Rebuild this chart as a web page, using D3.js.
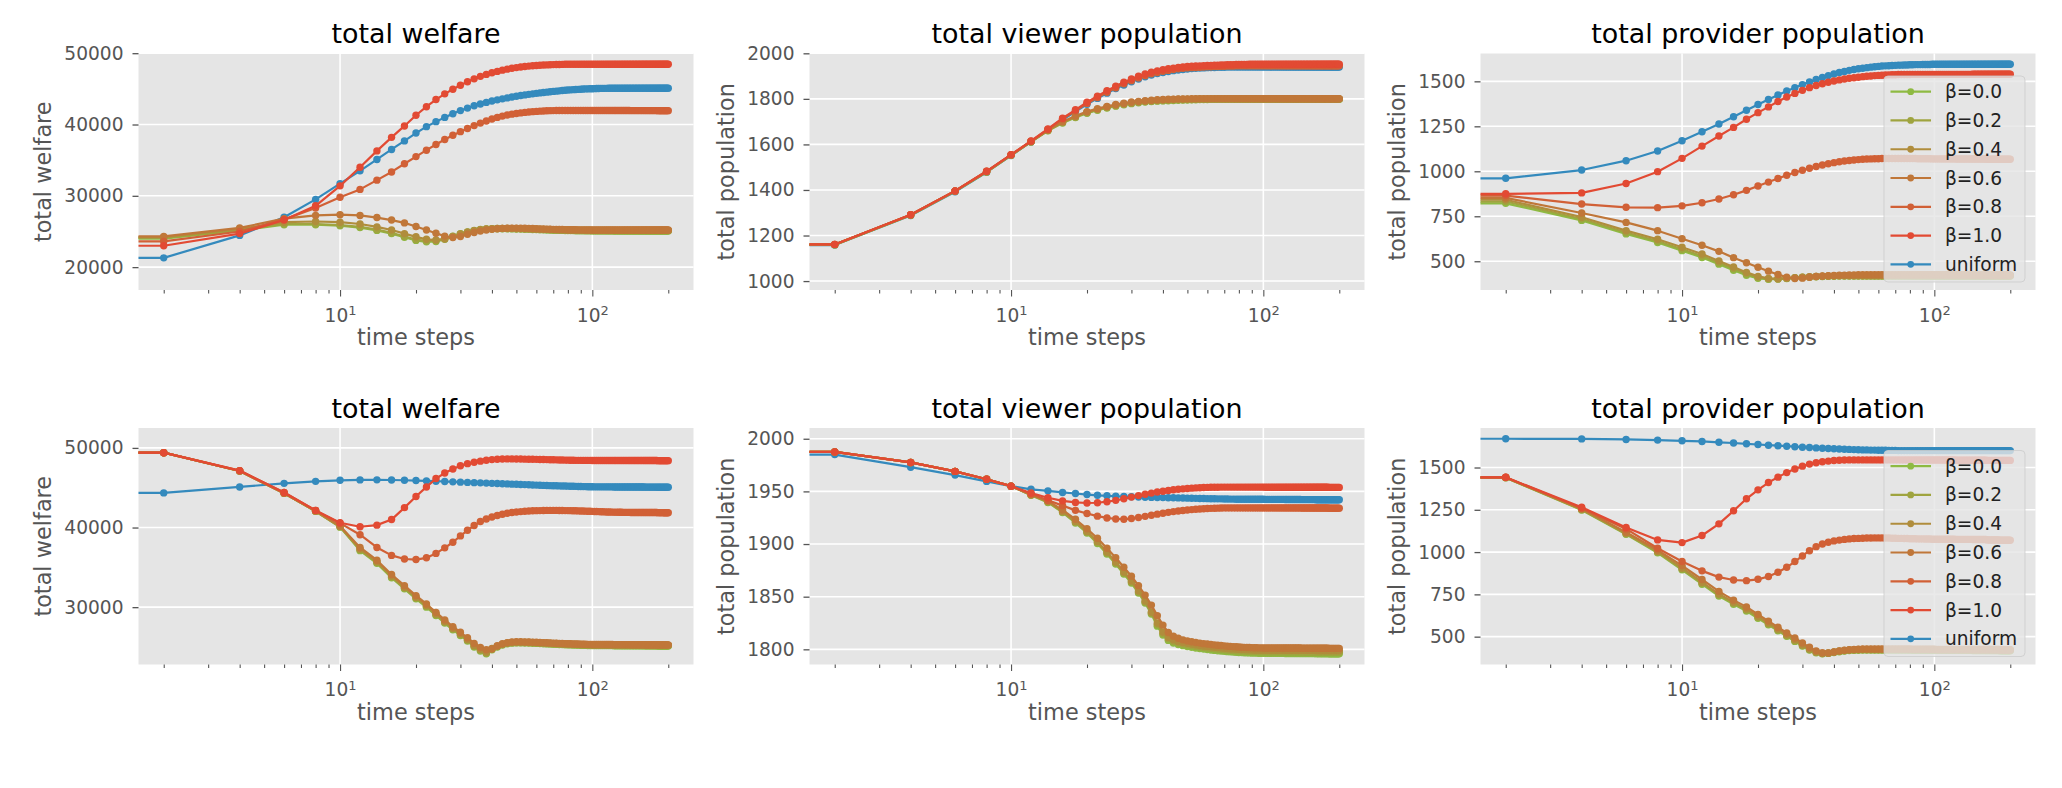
<!DOCTYPE html>
<html>
<head>
<meta charset="utf-8">
<script src="https://cdn.jsdelivr.net/npm/d3@7"></script>
<style>
  body { margin: 0; background: #fff; }
  svg text { font-family: "DejaVu Sans", sans-serif; }
</style>
</head>
<body>
<div id="chart"></div>
<script>
// time steps (t = 0 is clipped to the left edge like matplotlib does on a log axis)
const steps = [0, 2, 4, 6, 8, 10, 12, 14, 16, 18, 20,
  22, 24, 26, 28, 30, 32, 34, 36, 38, 40,
  42, 44, 46, 48, 50, 52, 54, 56, 58, 60,
  62, 64, 66, 68, 70, 72, 74, 76, 78, 80,
  82, 84, 86, 88, 90, 92, 94, 96, 98, 100,
  102, 104, 106, 108, 110, 112, 114, 116, 118, 120,
  122, 124, 126, 128, 130, 132, 134, 136, 138, 140,
  142, 144, 146, 148, 150, 152, 154, 156, 158, 160,
  162, 164, 166, 168, 170, 172, 174, 176, 178, 180,
  182, 184, 186, 188, 190, 192, 194, 196, 198, 200];

const betas = [0.0, 0.2, 0.4, 0.6, 0.8, 1.0];
const seriesNames = ["β=0.0", "β=0.2", "β=0.4", "β=0.6", "β=0.8", "β=1.0", "uniform"];

// ---------- top row: total welfare ----------
const welfare1_b00 = [24000, 24000, 25150, 25950, 25950, 25800, 25550, 25150, 24700, 24200, 23750,
  23550, 23600, 23900, 24300, 24650, 24900, 25100, 25230, 25320, 25360,
  25380, 25380, 25370, 25360, 25350, 25330, 25310, 25300, 25280, 25260,
  25240, 25230, 25210, 25200, 25180, 25170, 25160, 25150, 25140, 25130,
  25120, 25120, 25110, 25110, 25100, 25100, 25090, 25090, 25090, 25080,
  25080, 25080, 25080, 25080, 25080, 25080, 25080, 25080, 25080, 25080,
  25070, 25070, 25070, 25070, 25070, 25070, 25070, 25070, 25070, 25070,
  25070, 25070, 25070, 25070, 25070, 25070, 25070, 25070, 25070, 25070,
  25060, 25060, 25060, 25060, 25060, 25060, 25060, 25060, 25060, 25060,
  25060, 25060, 25060, 25060, 25060, 25060, 25060, 25060, 25060, 25060];
const welfare1_b02 = [24100, 24100, 25250, 26050, 26050, 25900, 25650, 25250, 24800, 24300, 23850,
  23650, 23700, 24000, 24350, 24700, 24950, 25150, 25280, 25360, 25400,
  25420, 25420, 25410, 25400, 25390, 25370, 25360, 25340, 25320, 25310,
  25290, 25270, 25260, 25240, 25230, 25220, 25210, 25200, 25190, 25180,
  25170, 25170, 25160, 25160, 25150, 25150, 25140, 25140, 25140, 25130,
  25130, 25130, 25130, 25130, 25130, 25130, 25130, 25130, 25130, 25130,
  25120, 25120, 25120, 25120, 25120, 25120, 25120, 25120, 25120, 25120,
  25120, 25120, 25120, 25120, 25120, 25120, 25120, 25120, 25120, 25120,
  25120, 25120, 25120, 25120, 25120, 25120, 25120, 25120, 25120, 25120,
  25120, 25120, 25120, 25120, 25120, 25120, 25120, 25120, 25120, 25120];
const welfare1_b04 = [24200, 24200, 25350, 26300, 26400, 26300, 26050, 25650, 25200, 24700, 24250,
  23900, 23800, 23950, 24250, 24600, 24900, 25100, 25250, 25350, 25400,
  25430, 25440, 25440, 25430, 25420, 25400, 25390, 25370, 25350, 25340,
  25320, 25300, 25290, 25270, 25260, 25250, 25240, 25230, 25220, 25210,
  25200, 25200, 25190, 25190, 25180, 25180, 25170, 25170, 25170, 25160,
  25160, 25160, 25160, 25160, 25160, 25160, 25160, 25160, 25160, 25160,
  25150, 25150, 25150, 25150, 25150, 25150, 25150, 25150, 25150, 25150,
  25150, 25150, 25150, 25150, 25150, 25150, 25150, 25150, 25150, 25150,
  25150, 25150, 25150, 25150, 25150, 25150, 25150, 25150, 25150, 25150,
  25150, 25150, 25150, 25150, 25150, 25150, 25150, 25150, 25150, 25150];
const welfare1_b06 = [24300, 24300, 25500, 26800, 27250, 27350, 27250, 26950, 26600, 26200, 25700,
  25200, 24750, 24350, 24150, 24300, 24600, 24850, 25050, 25200, 25300,
  25380, 25430, 25460, 25470, 25470, 25460, 25450, 25430, 25410, 25390,
  25370, 25350, 25330, 25310, 25300, 25290, 25280, 25270, 25260, 25250,
  25250, 25240, 25240, 25230, 25230, 25230, 25220, 25220, 25220, 25210,
  25210, 25210, 25210, 25210, 25210, 25210, 25210, 25210, 25210, 25210,
  25200, 25200, 25200, 25200, 25200, 25200, 25200, 25200, 25200, 25200,
  25200, 25200, 25200, 25200, 25200, 25200, 25200, 25200, 25200, 25200,
  25200, 25200, 25200, 25200, 25200, 25200, 25200, 25200, 25200, 25200,
  25200, 25200, 25200, 25200, 25200, 25200, 25200, 25200, 25200, 25200];
const welfare1_b08 = [23600, 23600, 25000, 26700, 28300, 29800, 30900, 32200, 33350, 34500, 35500,
  36400, 37200, 37900, 38500, 39000, 39450, 39850, 40200, 40500, 40780,
  41000, 41180, 41330, 41450, 41550, 41630, 41700, 41750, 41800, 41840,
  41870, 41900, 41920, 41940, 41950, 41960, 41960, 41960, 41960, 41960,
  41960, 41960, 41960, 41960, 41960, 41960, 41960, 41960, 41960, 41960,
  41960, 41960, 41960, 41960, 41960, 41960, 41960, 41960, 41960, 41960,
  41960, 41960, 41960, 41960, 41960, 41960, 41960, 41960, 41960, 41960,
  41950, 41950, 41950, 41950, 41950, 41950, 41950, 41950, 41950, 41950,
  41950, 41950, 41950, 41950, 41950, 41950, 41950, 41950, 41950, 41950,
  41940, 41940, 41940, 41940, 41940, 41940, 41940, 41940, 41940, 41940];
const welfare1_b10 = [23000, 23000, 24700, 26600, 28600, 31400, 34000, 36300, 38200, 39800, 41300,
  42500, 43500, 44300, 44950, 45500, 46000, 46400, 46750, 47030, 47250,
  47450, 47620, 47760, 47880, 47980, 48060, 48130, 48190, 48240, 48280,
  48310, 48340, 48360, 48380, 48400, 48410, 48420, 48430, 48440, 48450,
  48450, 48450, 48450, 48450, 48450, 48450, 48450, 48450, 48450, 48450,
  48450, 48450, 48450, 48450, 48450, 48450, 48450, 48450, 48450, 48450,
  48450, 48450, 48450, 48450, 48450, 48450, 48450, 48450, 48450, 48450,
  48450, 48450, 48450, 48450, 48450, 48450, 48450, 48450, 48450, 48450,
  48450, 48450, 48450, 48450, 48450, 48450, 48450, 48450, 48450, 48450,
  48450, 48450, 48450, 48450, 48450, 48450, 48450, 48450, 48450, 48450];
const welfare1_uni = [18300, 21300, 24450, 27000, 29500, 31700, 33500, 35100, 36500, 37700, 38800,
  39700, 40400, 41000, 41500, 41950, 42300, 42620, 42880, 43100, 43300,
  43460, 43600, 43730, 43850, 43960, 44060, 44150, 44230, 44300, 44370,
  44430, 44490, 44540, 44590, 44640, 44680, 44720, 44760, 44800, 44830,
  44860, 44890, 44910, 44930, 44950, 44970, 44990, 45000, 45010, 45020,
  45030, 45040, 45050, 45060, 45060, 45070, 45070, 45080, 45080, 45090,
  45090, 45090, 45090, 45090, 45090, 45090, 45090, 45090, 45090, 45090,
  45100, 45100, 45100, 45100, 45100, 45100, 45100, 45100, 45100, 45100,
  45100, 45100, 45100, 45100, 45100, 45100, 45100, 45100, 45100, 45100,
  45100, 45100, 45100, 45100, 45100, 45100, 45100, 45100, 45100, 45100];

// ---------- top row: total viewer population ----------
const viewers1_b00 = [1008, 1159, 1289, 1394, 1479, 1552, 1611, 1660, 1694, 1718, 1737,
  1750, 1760, 1768, 1774, 1779, 1783, 1786, 1788, 1790, 1791,
  1792, 1793, 1794, 1795, 1795, 1796, 1796, 1797, 1797, 1797,
  1798, 1798, 1798, 1798, 1798, 1798, 1798, 1798, 1798, 1798,
  1798, 1798, 1798, 1798, 1798, 1798, 1798, 1798, 1798, 1798,
  1798, 1798, 1798, 1798, 1798, 1798, 1798, 1798, 1798, 1798,
  1798, 1798, 1798, 1798, 1798, 1798, 1798, 1798, 1798, 1798,
  1798, 1798, 1798, 1798, 1798, 1798, 1798, 1798, 1798, 1798,
  1798, 1798, 1798, 1798, 1798, 1798, 1798, 1798, 1798, 1798,
  1798, 1798, 1798, 1798, 1798, 1798, 1798, 1798, 1798, 1798];
const viewers1_b02 = [1008, 1160, 1290, 1395, 1480, 1553, 1612, 1661, 1696, 1720, 1739,
  1752, 1762, 1770, 1776, 1781, 1785, 1788, 1790, 1792, 1793,
  1794, 1795, 1796, 1796, 1797, 1797, 1798, 1798, 1798, 1798,
  1799, 1799, 1799, 1799, 1799, 1799, 1799, 1799, 1799, 1799,
  1799, 1799, 1799, 1799, 1799, 1799, 1799, 1799, 1799, 1799,
  1799, 1799, 1799, 1799, 1799, 1799, 1799, 1799, 1799, 1799,
  1799, 1799, 1799, 1799, 1799, 1799, 1799, 1799, 1799, 1799,
  1799, 1799, 1799, 1799, 1799, 1799, 1799, 1799, 1799, 1799,
  1799, 1799, 1799, 1799, 1799, 1799, 1799, 1799, 1799, 1799,
  1799, 1799, 1799, 1799, 1799, 1799, 1799, 1799, 1799, 1799];
const viewers1_b04 = [1008, 1160, 1290, 1395, 1480, 1553, 1612, 1662, 1698, 1722, 1741,
  1754, 1764, 1772, 1778, 1783, 1787, 1790, 1792, 1794, 1795,
  1796, 1797, 1798, 1798, 1799, 1799, 1799, 1800, 1800, 1800,
  1800, 1800, 1800, 1800, 1800, 1800, 1800, 1800, 1800, 1800,
  1800, 1800, 1800, 1800, 1800, 1800, 1800, 1800, 1800, 1800,
  1800, 1800, 1800, 1800, 1800, 1800, 1800, 1800, 1800, 1800,
  1800, 1800, 1800, 1800, 1800, 1800, 1800, 1800, 1800, 1800,
  1800, 1800, 1800, 1800, 1800, 1800, 1800, 1800, 1800, 1800,
  1800, 1800, 1800, 1800, 1800, 1800, 1800, 1800, 1800, 1800,
  1800, 1800, 1800, 1800, 1800, 1800, 1800, 1800, 1800, 1800];
const viewers1_b06 = [1008, 1161, 1291, 1396, 1481, 1554, 1613, 1663, 1700, 1725, 1744,
  1757, 1767, 1775, 1781, 1786, 1789, 1792, 1794, 1796, 1797,
  1798, 1799, 1800, 1800, 1800, 1801, 1801, 1801, 1801, 1801,
  1801, 1801, 1801, 1801, 1801, 1801, 1801, 1801, 1801, 1801,
  1801, 1801, 1801, 1801, 1801, 1801, 1801, 1801, 1801, 1801,
  1801, 1801, 1801, 1801, 1801, 1801, 1801, 1801, 1801, 1801,
  1801, 1801, 1801, 1801, 1801, 1801, 1801, 1801, 1801, 1801,
  1801, 1801, 1801, 1801, 1801, 1801, 1801, 1801, 1801, 1801,
  1801, 1801, 1801, 1801, 1801, 1801, 1801, 1801, 1801, 1801,
  1801, 1801, 1801, 1801, 1801, 1801, 1801, 1801, 1801, 1801];
const viewers1_b08 = [1008, 1161, 1291, 1396, 1482, 1555, 1614, 1666, 1712, 1748, 1780,
  1806, 1829, 1849, 1866, 1880, 1892, 1902, 1910, 1916, 1921,
  1925, 1929, 1932, 1934, 1936, 1937, 1938, 1939, 1940, 1941,
  1941, 1942, 1942, 1943, 1943, 1944, 1944, 1944, 1945, 1945,
  1945, 1945, 1945, 1945, 1945, 1945, 1945, 1945, 1945, 1945,
  1945, 1945, 1945, 1945, 1945, 1945, 1945, 1945, 1945, 1945,
  1945, 1945, 1945, 1945, 1945, 1945, 1945, 1945, 1945, 1945,
  1945, 1945, 1945, 1945, 1945, 1945, 1945, 1945, 1945, 1945,
  1945, 1945, 1945, 1945, 1945, 1945, 1945, 1945, 1945, 1945,
  1945, 1945, 1945, 1945, 1945, 1945, 1945, 1945, 1945, 1945];
const viewers1_b10 = [1008, 1161, 1291, 1396, 1482, 1555, 1615, 1668, 1715, 1752, 1785,
  1812, 1836, 1856, 1873, 1887, 1899, 1909, 1917, 1923, 1928,
  1932, 1935, 1938, 1940, 1942, 1943, 1944, 1945, 1946, 1947,
  1947, 1948, 1948, 1949, 1949, 1950, 1950, 1950, 1951, 1951,
  1951, 1951, 1951, 1952, 1952, 1952, 1952, 1952, 1952, 1952,
  1952, 1952, 1952, 1952, 1952, 1952, 1952, 1952, 1952, 1952,
  1952, 1952, 1952, 1952, 1952, 1952, 1952, 1952, 1952, 1952,
  1952, 1952, 1952, 1952, 1952, 1952, 1952, 1952, 1952, 1952,
  1952, 1952, 1952, 1952, 1952, 1952, 1952, 1952, 1952, 1952,
  1952, 1952, 1952, 1952, 1952, 1952, 1952, 1952, 1952, 1952];
const viewers1_uni = [1008, 1158, 1288, 1392, 1478, 1551, 1611, 1663, 1708, 1744, 1776,
  1802, 1825, 1845, 1861, 1875, 1887, 1897, 1905, 1911, 1916,
  1920, 1924, 1927, 1929, 1931, 1933, 1934, 1935, 1936, 1937,
  1938, 1938, 1939, 1939, 1939, 1940, 1940, 1940, 1940, 1940,
  1940, 1940, 1940, 1940, 1940, 1940, 1940, 1940, 1940, 1940,
  1940, 1940, 1940, 1940, 1940, 1940, 1940, 1940, 1940, 1940,
  1940, 1940, 1940, 1940, 1940, 1940, 1940, 1940, 1940, 1940,
  1940, 1940, 1940, 1940, 1940, 1940, 1940, 1940, 1940, 1940,
  1940, 1940, 1940, 1940, 1940, 1940, 1940, 1940, 1940, 1940,
  1940, 1940, 1940, 1940, 1940, 1940, 1940, 1940, 1940, 1940];

// ---------- top row: total provider population ----------
const providers1_b00 = [822, 822, 727, 652, 604, 559, 521, 484, 450, 422, 405,
  400, 401, 404, 407, 410, 412, 414, 415, 416, 417,
  418, 418, 418, 418, 418, 418, 418, 418, 418, 418,
  418, 418, 418, 418, 418, 418, 418, 418, 418, 418,
  418, 418, 418, 418, 418, 418, 418, 418, 418, 418,
  418, 418, 418, 418, 418, 418, 418, 418, 418, 418,
  418, 418, 418, 418, 418, 418, 418, 418, 418, 418,
  418, 418, 418, 418, 418, 418, 418, 418, 418, 418,
  418, 418, 418, 418, 418, 418, 418, 418, 418, 418,
  418, 418, 418, 418, 418, 418, 418, 418, 418, 418];
const providers1_b02 = [832, 832, 735, 660, 612, 567, 529, 492, 458, 429, 410,
  402, 402, 405, 408, 411, 413, 415, 416, 417, 418,
  419, 419, 419, 419, 419, 419, 419, 419, 419, 419,
  419, 419, 419, 419, 419, 419, 419, 419, 419, 419,
  419, 419, 419, 419, 419, 419, 419, 419, 419, 419,
  419, 419, 419, 419, 419, 419, 419, 419, 419, 419,
  419, 419, 419, 419, 419, 419, 419, 419, 419, 419,
  419, 419, 419, 419, 419, 419, 419, 419, 419, 419,
  419, 419, 419, 419, 419, 419, 419, 419, 419, 419,
  419, 419, 419, 419, 419, 419, 419, 419, 419, 419];
const providers1_b04 = [842, 842, 745, 670, 622, 578, 540, 502, 468, 438, 416,
  405, 403, 406, 409, 412, 414, 416, 417, 418, 419,
  420, 420, 420, 420, 420, 420, 420, 420, 420, 420,
  421, 421, 421, 421, 421, 421, 421, 421, 421, 421,
  421, 421, 421, 421, 421, 421, 421, 421, 421, 421,
  421, 421, 421, 421, 421, 421, 421, 421, 421, 421,
  421, 421, 421, 421, 421, 421, 421, 421, 421, 421,
  421, 421, 421, 421, 421, 421, 421, 421, 421, 421,
  421, 421, 421, 421, 421, 421, 421, 421, 421, 421,
  421, 421, 421, 421, 421, 421, 421, 421, 421, 421];
const providers1_b06 = [852, 852, 768, 716, 670, 625, 589, 555, 520, 492, 467,
  445, 426, 412, 404, 406, 411, 415, 418, 420, 421,
  422, 423, 424, 424, 425, 425, 425, 425, 425, 425,
  425, 425, 425, 425, 425, 425, 425, 425, 425, 425,
  425, 425, 425, 425, 425, 425, 425, 425, 425, 425,
  425, 425, 425, 425, 425, 425, 425, 425, 425, 425,
  425, 425, 425, 425, 425, 425, 425, 425, 425, 425,
  424, 424, 424, 424, 424, 424, 424, 424, 424, 424,
  424, 424, 424, 424, 424, 424, 424, 424, 424, 424,
  424, 424, 424, 424, 424, 424, 424, 424, 424, 424];
const providers1_b08 = [865, 865, 818, 800, 798, 808, 825, 846, 870, 894, 918,
  940, 960, 978, 993, 1006, 1017, 1027, 1035, 1042, 1048,
  1053, 1057, 1060, 1063, 1065, 1067, 1068, 1069, 1070, 1070,
  1071, 1071, 1071, 1071, 1071, 1071, 1071, 1071, 1071, 1071,
  1071, 1071, 1070, 1070, 1070, 1070, 1070, 1070, 1069, 1069,
  1069, 1069, 1069, 1069, 1069, 1069, 1069, 1069, 1069, 1069,
  1068, 1068, 1068, 1068, 1068, 1068, 1068, 1068, 1068, 1068,
  1068, 1068, 1068, 1068, 1068, 1068, 1068, 1068, 1068, 1068,
  1067, 1067, 1067, 1067, 1067, 1067, 1067, 1067, 1067, 1067,
  1067, 1067, 1067, 1067, 1067, 1067, 1067, 1067, 1067, 1067];
const providers1_b10 = [875, 875, 880, 932, 998, 1072, 1140, 1196, 1244, 1289, 1326,
  1358, 1388, 1413, 1433, 1450, 1465, 1477, 1487, 1495, 1502,
  1508, 1513, 1517, 1520, 1523, 1526, 1528, 1530, 1532, 1533,
  1534, 1535, 1536, 1537, 1537, 1538, 1538, 1538, 1538, 1538,
  1539, 1539, 1539, 1539, 1539, 1539, 1539, 1539, 1539, 1539,
  1539, 1539, 1539, 1539, 1539, 1539, 1539, 1539, 1539, 1539,
  1539, 1539, 1539, 1539, 1539, 1539, 1539, 1539, 1539, 1539,
  1540, 1540, 1540, 1540, 1540, 1540, 1540, 1540, 1540, 1540,
  1540, 1540, 1540, 1540, 1540, 1540, 1540, 1540, 1540, 1540,
  1540, 1540, 1540, 1540, 1540, 1540, 1540, 1540, 1540, 1540];
const providers1_uni = [961, 961, 1007, 1059, 1113, 1170, 1220, 1263, 1303, 1339, 1371,
  1399, 1424, 1446, 1465, 1482, 1497, 1510, 1522, 1532, 1541,
  1549, 1555, 1561, 1566, 1570, 1573, 1576, 1579, 1581, 1583,
  1585, 1586, 1587, 1588, 1589, 1590, 1590, 1591, 1591, 1592,
  1592, 1593, 1593, 1593, 1594, 1594, 1594, 1594, 1595, 1595,
  1595, 1595, 1595, 1595, 1595, 1595, 1595, 1595, 1595, 1595,
  1595, 1595, 1595, 1595, 1595, 1595, 1595, 1595, 1595, 1595,
  1595, 1595, 1595, 1595, 1595, 1595, 1595, 1595, 1595, 1595,
  1595, 1595, 1595, 1595, 1595, 1595, 1595, 1595, 1595, 1595,
  1595, 1595, 1595, 1595, 1595, 1595, 1595, 1595, 1595, 1595];

// ---------- bottom row: total welfare ----------
const welfare2_b00 = [51150, 49400, 47100, 44300, 42050, 40050, 37100, 35500, 33700, 32300, 31050,
  30000, 28950, 28000, 27150, 26450, 25750, 25000, 24500, 24150, 24650,
  25000, 25250, 25400, 25480, 25510, 25510, 25500, 25490, 25470, 25450,
  25430, 25410, 25390, 25370, 25350, 25330, 25310, 25300, 25280, 25270,
  25260, 25250, 25240, 25230, 25220, 25210, 25200, 25190, 25190, 25180,
  25180, 25180, 25180, 25180, 25180, 25180, 25180, 25180, 25180, 25180,
  25160, 25160, 25160, 25160, 25160, 25160, 25160, 25160, 25160, 25160,
  25150, 25150, 25150, 25150, 25150, 25150, 25150, 25150, 25150, 25150,
  25140, 25140, 25140, 25140, 25140, 25140, 25140, 25140, 25140, 25140,
  25130, 25130, 25130, 25130, 25130, 25130, 25130, 25130, 25130, 25130];
const welfare2_b02 = [51150, 49400, 47100, 44300, 42050, 40100, 37200, 35600, 33800, 32400, 31150,
  30100, 29050, 28100, 27250, 26550, 25850, 25100, 24600, 24250, 24700,
  25050, 25300, 25450, 25530, 25560, 25560, 25550, 25540, 25520, 25500,
  25480, 25460, 25440, 25420, 25400, 25380, 25360, 25350, 25330, 25320,
  25310, 25300, 25290, 25280, 25270, 25260, 25250, 25240, 25240, 25230,
  25230, 25230, 25230, 25230, 25230, 25230, 25230, 25230, 25230, 25230,
  25210, 25210, 25210, 25210, 25210, 25210, 25210, 25210, 25210, 25210,
  25200, 25200, 25200, 25200, 25200, 25200, 25200, 25200, 25200, 25200,
  25190, 25190, 25190, 25190, 25190, 25190, 25190, 25190, 25190, 25190,
  25180, 25180, 25180, 25180, 25180, 25180, 25180, 25180, 25180, 25180];
const welfare2_b04 = [51150, 49400, 47100, 44300, 42050, 40150, 37300, 35700, 33900, 32500, 31250,
  30200, 29150, 28200, 27350, 26650, 25950, 25200, 24700, 24350, 24800,
  25100, 25350, 25500, 25580, 25610, 25610, 25600, 25590, 25570, 25550,
  25530, 25510, 25490, 25470, 25450, 25430, 25410, 25400, 25380, 25370,
  25360, 25350, 25340, 25330, 25320, 25310, 25300, 25290, 25290, 25280,
  25280, 25280, 25280, 25280, 25280, 25280, 25280, 25280, 25280, 25280,
  25260, 25260, 25260, 25260, 25260, 25260, 25260, 25260, 25260, 25260,
  25250, 25250, 25250, 25250, 25250, 25250, 25250, 25250, 25250, 25250,
  25240, 25240, 25240, 25240, 25240, 25240, 25240, 25240, 25240, 25240,
  25230, 25230, 25230, 25230, 25230, 25230, 25230, 25230, 25230, 25230];
const welfare2_b06 = [51150, 49400, 47100, 44300, 42100, 40200, 37500, 35900, 34100, 32700, 31450,
  30400, 29350, 28400, 27550, 26850, 26150, 25450, 24950, 24650, 24750,
  25150, 25400, 25550, 25620, 25650, 25650, 25640, 25630, 25610, 25590,
  25570, 25550, 25530, 25510, 25490, 25470, 25450, 25440, 25420, 25410,
  25400, 25390, 25380, 25370, 25360, 25350, 25340, 25330, 25330, 25320,
  25320, 25320, 25320, 25320, 25320, 25320, 25320, 25320, 25320, 25320,
  25300, 25300, 25300, 25300, 25300, 25300, 25300, 25300, 25300, 25300,
  25290, 25290, 25290, 25290, 25290, 25290, 25290, 25290, 25290, 25290,
  25280, 25280, 25280, 25280, 25280, 25280, 25280, 25280, 25280, 25280,
  25270, 25270, 25270, 25270, 25270, 25270, 25270, 25270, 25270, 25270];
const welfare2_b08 = [51150, 49400, 47150, 44400, 42150, 40550, 39100, 37500, 36500, 36050, 35980,
  36200, 36750, 37450, 38150, 38950, 39650, 40250, 40750, 41080, 41330,
  41520, 41670, 41790, 41880, 41950, 42000, 42040, 42070, 42100, 42120,
  42130, 42140, 42150, 42150, 42150, 42150, 42140, 42140, 42130, 42130,
  42120, 42110, 42100, 42090, 42080, 42070, 42060, 42050, 42040, 42030,
  42020, 42010, 42000, 41990, 41980, 41970, 41960, 41950, 41950, 41940,
  41940, 41930, 41930, 41920, 41920, 41910, 41910, 41900, 41900, 41900,
  41890, 41890, 41890, 41890, 41890, 41890, 41890, 41890, 41890, 41890,
  41880, 41880, 41880, 41880, 41880, 41880, 41880, 41880, 41880, 41880,
  41870, 41870, 41870, 41870, 41870, 41860, 41860, 41860, 41860, 41860];
const welfare2_b10 = [51150, 49400, 47150, 44400, 42150, 40600, 40100, 40300, 41000, 42500, 43900,
  45100, 46150, 46850, 47350, 47750, 48020, 48200, 48340, 48450, 48530,
  48580, 48610, 48620, 48620, 48610, 48600, 48590, 48580, 48570, 48560,
  48550, 48540, 48530, 48520, 48510, 48500, 48490, 48480, 48470, 48460,
  48450, 48450, 48440, 48440, 48440, 48430, 48430, 48430, 48430, 48420,
  48420, 48420, 48420, 48420, 48420, 48420, 48420, 48420, 48420, 48420,
  48420, 48420, 48420, 48420, 48420, 48420, 48420, 48420, 48420, 48420,
  48410, 48410, 48410, 48410, 48410, 48410, 48410, 48410, 48410, 48410,
  48410, 48410, 48410, 48410, 48410, 48410, 48410, 48410, 48410, 48410,
  48400, 48400, 48400, 48400, 48400, 48400, 48400, 48400, 48400, 48400];
const welfare2_uni = [44350, 44350, 45100, 45550, 45800, 45930, 45980, 45990, 45970, 45940, 45900,
  45860, 45820, 45780, 45740, 45700, 45670, 45640, 45610, 45580, 45550,
  45530, 45500, 45480, 45450, 45430, 45410, 45390, 45370, 45350, 45330,
  45310, 45290, 45280, 45260, 45250, 45240, 45230, 45220, 45210, 45200,
  45190, 45180, 45170, 45160, 45150, 45140, 45140, 45130, 45120, 45120,
  45110, 45110, 45110, 45110, 45110, 45110, 45110, 45110, 45110, 45110,
  45100, 45100, 45100, 45100, 45100, 45100, 45100, 45100, 45100, 45100,
  45090, 45090, 45090, 45090, 45090, 45090, 45090, 45090, 45090, 45090,
  45080, 45080, 45080, 45080, 45080, 45080, 45080, 45080, 45080, 45080,
  45070, 45070, 45070, 45070, 45070, 45070, 45070, 45070, 45070, 45070];

// ---------- bottom row: total viewer population ----------
const viewers2_b00 = [2000, 1987.5, 1977.5, 1969, 1961.5, 1955, 1946.4, 1939.5, 1930, 1920, 1910.5,
  1900.5, 1890.5, 1881, 1871.5, 1863, 1853.5, 1844, 1833.5, 1822, 1813.5,
  1808.5, 1806, 1804.5, 1803.5, 1802.7, 1802, 1801.3, 1800.7, 1800.2, 1799.8,
  1799.4, 1799, 1798.7, 1798.4, 1798.1, 1797.8, 1797.6, 1797.4, 1797.2, 1797,
  1796.9, 1796.8, 1796.7, 1796.6, 1796.5, 1796.4, 1796.4, 1796.3, 1796.3, 1796.2,
  1796.2, 1796.2, 1796.2, 1796.2, 1796.2, 1796.2, 1796.2, 1796.2, 1796.2, 1796.2,
  1796.1, 1796.1, 1796.1, 1796.1, 1796.1, 1796.1, 1796.1, 1796.1, 1796.1, 1796.1,
  1796, 1796, 1796, 1796, 1796, 1796, 1796, 1796, 1796, 1796,
  1795.9, 1795.9, 1795.9, 1795.9, 1795.9, 1795.9, 1795.9, 1795.9, 1795.9, 1795.9,
  1795.8, 1795.8, 1795.8, 1795.8, 1795.8, 1795.8, 1795.8, 1795.8, 1795.8, 1795.8];
const viewers2_b02 = [2000, 1987.5, 1977.5, 1969, 1961.5, 1955, 1946.6, 1940, 1930.5, 1920.8, 1911.2,
  1901.5, 1891.5, 1882, 1872.5, 1864, 1854.5, 1845, 1834.5, 1823.5, 1815,
  1810, 1807.5, 1806, 1805, 1804.2, 1803.5, 1802.8, 1802.2, 1801.7, 1801.3,
  1800.9, 1800.5, 1800.2, 1799.9, 1799.6, 1799.3, 1799.1, 1798.9, 1798.7, 1798.5,
  1798.4, 1798.3, 1798.2, 1798.1, 1798, 1797.9, 1797.9, 1797.8, 1797.8, 1797.7,
  1797.7, 1797.7, 1797.7, 1797.7, 1797.7, 1797.7, 1797.7, 1797.7, 1797.7, 1797.7,
  1797.6, 1797.6, 1797.6, 1797.6, 1797.6, 1797.6, 1797.6, 1797.6, 1797.6, 1797.6,
  1797.5, 1797.5, 1797.5, 1797.5, 1797.5, 1797.5, 1797.5, 1797.5, 1797.5, 1797.5,
  1797.4, 1797.4, 1797.4, 1797.4, 1797.4, 1797.4, 1797.4, 1797.4, 1797.4, 1797.4,
  1797.3, 1797.3, 1797.3, 1797.3, 1797.3, 1797.3, 1797.3, 1797.3, 1797.3, 1797.3];
const viewers2_b04 = [2000, 1987.5, 1977.5, 1969, 1961.5, 1955, 1946.8, 1940.5, 1931, 1921.5, 1912,
  1902.5, 1892.5, 1883, 1873.5, 1865, 1855.5, 1846, 1835.5, 1825, 1816.5,
  1811.5, 1809, 1807.5, 1806.5, 1805.7, 1805, 1804.3, 1803.7, 1803.2, 1802.8,
  1802.4, 1802, 1801.7, 1801.4, 1801.1, 1800.8, 1800.6, 1800.4, 1800.2, 1800,
  1799.9, 1799.8, 1799.7, 1799.6, 1799.5, 1799.4, 1799.4, 1799.3, 1799.3, 1799.2,
  1799.2, 1799.2, 1799.2, 1799.2, 1799.2, 1799.2, 1799.2, 1799.2, 1799.2, 1799.2,
  1799.1, 1799.1, 1799.1, 1799.1, 1799.1, 1799.1, 1799.1, 1799.1, 1799.1, 1799.1,
  1799, 1799, 1799, 1799, 1799, 1799, 1799, 1799, 1799, 1799,
  1798.9, 1798.9, 1798.9, 1798.9, 1798.9, 1798.9, 1798.9, 1798.9, 1798.9, 1798.9,
  1798.8, 1798.8, 1798.8, 1798.8, 1798.8, 1798.8, 1798.8, 1798.8, 1798.8, 1798.8];
const viewers2_b06 = [2000, 1987.5, 1977.5, 1969, 1961.5, 1955, 1947, 1941, 1932.5, 1923.5, 1914.5,
  1905.5, 1896, 1887, 1878, 1869.5, 1860.5, 1851.5, 1842, 1832, 1823,
  1816, 1812.5, 1810.5, 1809, 1808, 1807.2, 1806.5, 1805.9, 1805.4, 1805,
  1804.6, 1804.2, 1803.9, 1803.6, 1803.3, 1803, 1802.8, 1802.6, 1802.4, 1802.2,
  1802, 1801.9, 1801.8, 1801.7, 1801.6, 1801.5, 1801.5, 1801.4, 1801.4, 1801.3,
  1801.3, 1801.3, 1801.3, 1801.3, 1801.3, 1801.3, 1801.3, 1801.3, 1801.3, 1801.3,
  1801.2, 1801.2, 1801.2, 1801.2, 1801.2, 1801.2, 1801.2, 1801.2, 1801.2, 1801.2,
  1801.1, 1801.1, 1801.1, 1801.1, 1801.1, 1801.1, 1801.1, 1801.1, 1801.1, 1801.1,
  1801, 1801, 1801, 1801, 1801, 1801, 1801, 1801, 1801, 1801,
  1800.9, 1800.9, 1800.9, 1800.9, 1800.9, 1800.9, 1800.9, 1800.9, 1800.9, 1800.9];
const viewers2_b08 = [2000, 1987.5, 1977.5, 1969, 1961.5, 1955, 1947.5, 1941.5, 1936.5, 1932, 1929,
  1926.5, 1924.8, 1923.8, 1923.6, 1924.2, 1925.2, 1926.3, 1927.4, 1928.4, 1929.3,
  1930.1, 1930.8, 1931.4, 1931.9, 1932.3, 1932.7, 1933, 1933.3, 1933.5, 1933.7,
  1933.9, 1934, 1934.1, 1934.2, 1934.3, 1934.3, 1934.3, 1934.3, 1934.3, 1934.3,
  1934.3, 1934.3, 1934.3, 1934.3, 1934.3, 1934.3, 1934.3, 1934.3, 1934.3, 1934.3,
  1934.3, 1934.3, 1934.3, 1934.3, 1934.3, 1934.3, 1934.3, 1934.3, 1934.3, 1934.3,
  1934.3, 1934.3, 1934.3, 1934.3, 1934.3, 1934.3, 1934.3, 1934.3, 1934.3, 1934.3,
  1934.2, 1934.2, 1934.2, 1934.2, 1934.2, 1934.2, 1934.2, 1934.2, 1934.2, 1934.2,
  1934.2, 1934.2, 1934.2, 1934.2, 1934.2, 1934.2, 1934.2, 1934.2, 1934.2, 1934.2,
  1934.1, 1934.1, 1934.1, 1934.1, 1934.1, 1934.1, 1934.1, 1934.1, 1934.1, 1934.1];
const viewers2_b10 = [2000, 1987.5, 1977.5, 1969, 1961.5, 1955, 1948.5, 1944, 1941, 1939.5, 1939,
  1939.2, 1940.2, 1941.5, 1943, 1944.6, 1946, 1947.3, 1948.4, 1949.4, 1950.2,
  1950.9, 1951.5, 1952, 1952.4, 1952.8, 1953.1, 1953.3, 1953.5, 1953.7, 1953.8,
  1953.9, 1954, 1954, 1954.1, 1954.1, 1954.1, 1954.1, 1954.1, 1954.1, 1954.1,
  1954.1, 1954.1, 1954.1, 1954.1, 1954.1, 1954.1, 1954.1, 1954.1, 1954.1, 1954.1,
  1954, 1954, 1954, 1954, 1954, 1954, 1954, 1954, 1954, 1954,
  1954, 1954, 1954, 1954, 1954, 1954, 1954, 1954, 1954, 1954,
  1953.9, 1953.9, 1953.9, 1953.9, 1953.9, 1953.9, 1953.9, 1953.9, 1953.9, 1953.9,
  1953.9, 1953.9, 1953.9, 1953.9, 1953.9, 1953.9, 1953.9, 1953.9, 1953.9, 1953.9,
  1953.8, 1953.8, 1953.8, 1953.8, 1953.8, 1953.8, 1953.8, 1953.8, 1953.8, 1953.8];
const viewers2_uni = [2000, 1985, 1973, 1965.5, 1959.5, 1955, 1952, 1950.5, 1949, 1948, 1947,
  1946.3, 1945.8, 1945.4, 1945.1, 1944.9, 1944.7, 1944.5, 1944.3, 1944.2, 1944.1,
  1944, 1943.9, 1943.8, 1943.7, 1943.6, 1943.5, 1943.4, 1943.3, 1943.2, 1943.1,
  1943, 1943, 1942.9, 1942.9, 1942.8, 1942.8, 1942.7, 1942.7, 1942.6, 1942.6,
  1942.5, 1942.5, 1942.5, 1942.5, 1942.5, 1942.5, 1942.5, 1942.5, 1942.5, 1942.5,
  1942.4, 1942.4, 1942.4, 1942.4, 1942.4, 1942.4, 1942.4, 1942.4, 1942.4, 1942.4,
  1942.3, 1942.3, 1942.3, 1942.3, 1942.3, 1942.3, 1942.3, 1942.3, 1942.3, 1942.3,
  1942.2, 1942.2, 1942.2, 1942.2, 1942.2, 1942.2, 1942.2, 1942.2, 1942.2, 1942.2,
  1942.1, 1942.1, 1942.1, 1942.1, 1942.1, 1942.1, 1942.1, 1942.1, 1942.1, 1942.1,
  1942, 1942, 1942, 1942, 1942, 1942, 1942, 1942, 1942, 1942];

// ---------- bottom row: total provider population ----------
const providers2_b00 = [1440, 1440, 1249, 1105, 996, 895, 810, 740, 691, 652, 609,
  570, 535, 502, 472, 445, 421, 405, 399, 401, 406,
  411, 415, 418, 419, 420, 421, 421, 421, 421, 421,
  421, 421, 421, 421, 421, 421, 421, 421, 421, 421,
  420, 420, 420, 420, 420, 420, 420, 420, 420, 420,
  419, 419, 419, 419, 419, 419, 419, 419, 419, 419,
  419, 419, 419, 419, 419, 419, 419, 419, 419, 419,
  418, 418, 418, 418, 418, 418, 418, 418, 418, 418,
  418, 418, 418, 418, 418, 418, 418, 418, 418, 418,
  417, 417, 417, 417, 417, 417, 417, 417, 417, 417];
const providers2_b02 = [1440, 1440, 1251, 1108, 1000, 900, 816, 746, 697, 658, 614,
  575, 540, 506, 476, 448, 424, 407, 400, 402, 408,
  413, 417, 420, 421, 422, 423, 423, 423, 423, 423,
  423, 423, 423, 423, 423, 423, 423, 423, 423, 423,
  422, 422, 422, 422, 422, 422, 422, 422, 422, 422,
  421, 421, 421, 421, 421, 421, 421, 421, 421, 421,
  421, 421, 421, 421, 421, 421, 421, 421, 421, 421,
  420, 420, 420, 420, 420, 420, 420, 420, 420, 420,
  420, 420, 420, 420, 420, 420, 420, 420, 420, 420,
  419, 419, 419, 419, 419, 419, 419, 419, 419, 419];
const providers2_b04 = [1441, 1441, 1253, 1111, 1004, 906, 822, 752, 703, 664, 620,
  581, 545, 511, 481, 452, 428, 410, 401, 403, 410,
  415, 419, 422, 423, 424, 425, 425, 425, 425, 425,
  425, 425, 425, 425, 425, 425, 425, 425, 425, 425,
  424, 424, 424, 424, 424, 424, 424, 424, 424, 424,
  423, 423, 423, 423, 423, 423, 423, 423, 423, 423,
  423, 423, 423, 423, 423, 423, 423, 423, 423, 423,
  422, 422, 422, 422, 422, 422, 422, 422, 422, 422,
  422, 422, 422, 422, 422, 422, 422, 422, 422, 422,
  421, 421, 421, 421, 421, 421, 421, 421, 421, 421];
const providers2_b06 = [1441, 1441, 1256, 1118, 1012, 920, 838, 768, 716, 676, 632,
  592, 556, 522, 492, 463, 437, 416, 405, 404, 410,
  416, 420, 423, 425, 426, 427, 427, 427, 427, 427,
  427, 427, 427, 427, 427, 427, 427, 427, 427, 427,
  426, 426, 426, 426, 426, 426, 426, 426, 426, 426,
  425, 425, 425, 425, 425, 425, 425, 425, 425, 425,
  425, 425, 425, 425, 425, 425, 425, 425, 425, 425,
  424, 424, 424, 424, 424, 424, 424, 424, 424, 424,
  424, 424, 424, 424, 424, 424, 424, 424, 424, 424,
  423, 423, 423, 423, 423, 423, 423, 423, 423, 423];
const providers2_b08 = [1442, 1442, 1259, 1137, 1023, 944, 889, 852, 835, 831, 839,
  856, 881, 910, 944, 977, 1008, 1032, 1048, 1058, 1066,
  1071, 1075, 1078, 1080, 1081, 1082, 1083, 1083, 1084, 1084,
  1084, 1083, 1083, 1082, 1082, 1081, 1081, 1080, 1080, 1079,
  1079, 1079, 1078, 1078, 1078, 1077, 1077, 1077, 1076, 1076,
  1076, 1076, 1076, 1076, 1076, 1076, 1076, 1076, 1076, 1076,
  1075, 1075, 1075, 1075, 1075, 1075, 1075, 1075, 1075, 1075,
  1074, 1074, 1074, 1074, 1074, 1074, 1074, 1074, 1074, 1074,
  1072, 1072, 1072, 1072, 1072, 1072, 1072, 1072, 1072, 1072,
  1070, 1070, 1070, 1070, 1070, 1070, 1070, 1070, 1070, 1070];
const providers2_b10 = [1442, 1442, 1265, 1145, 1072, 1056, 1098, 1167, 1244, 1315, 1368,
  1411, 1443, 1470, 1491, 1508, 1520, 1528, 1534, 1538, 1541,
  1543, 1544, 1545, 1545, 1545, 1545, 1545, 1545, 1545, 1545,
  1545, 1545, 1545, 1545, 1545, 1545, 1545, 1545, 1545, 1545,
  1544, 1544, 1544, 1544, 1544, 1544, 1544, 1544, 1544, 1544,
  1544, 1544, 1544, 1544, 1544, 1544, 1544, 1544, 1544, 1544,
  1543, 1543, 1543, 1543, 1543, 1543, 1543, 1543, 1543, 1543,
  1543, 1543, 1543, 1543, 1543, 1543, 1543, 1543, 1543, 1543,
  1542, 1542, 1542, 1542, 1542, 1542, 1542, 1542, 1542, 1542,
  1542, 1542, 1542, 1542, 1542, 1542, 1542, 1542, 1542, 1542];
const providers2_uni = [1670, 1670, 1669, 1666, 1662, 1658, 1654, 1649, 1645, 1640, 1636,
  1632, 1629, 1626, 1623, 1620, 1618, 1616, 1614, 1612, 1611,
  1609, 1608, 1607, 1606, 1605, 1604, 1604, 1603, 1603, 1602,
  1602, 1602, 1601, 1601, 1601, 1600, 1600, 1600, 1600, 1600,
  1600, 1600, 1600, 1600, 1600, 1600, 1600, 1600, 1600, 1600,
  1600, 1600, 1600, 1600, 1600, 1600, 1600, 1600, 1600, 1600,
  1600, 1600, 1600, 1600, 1600, 1600, 1600, 1600, 1600, 1600,
  1600, 1600, 1600, 1600, 1600, 1600, 1600, 1600, 1600, 1600,
  1600, 1600, 1600, 1600, 1600, 1600, 1600, 1600, 1600, 1600,
  1600, 1600, 1600, 1600, 1600, 1600, 1600, 1600, 1600, 1600];

// y tick values
const welfareTicks1 = [20000, 30000, 40000, 50000];
const viewerTicks1 = [1000, 1200, 1400, 1600, 1800, 2000];
const providerTicks1 = [500, 750, 1000, 1250, 1500];
const welfareTicks2 = [30000, 40000, 50000];
const viewerTicks2 = [1800, 1850, 1900, 1950, 2000];
const providerTicks2 = [500, 750, 1000, 1250, 1500];

const panels = [
  { row: 0, col: 0, title: "total welfare", ylabel: "total welfare", yticks: welfareTicks1,
    series: [welfare1_b00, welfare1_b02, welfare1_b04, welfare1_b06, welfare1_b08, welfare1_b10, welfare1_uni] },
  { row: 0, col: 1, title: "total viewer population", ylabel: "total population", yticks: viewerTicks1,
    series: [viewers1_b00, viewers1_b02, viewers1_b04, viewers1_b06, viewers1_b08, viewers1_b10, viewers1_uni] },
  { row: 0, col: 2, title: "total provider population", ylabel: "total population", yticks: providerTicks1, legend: true,
    series: [providers1_b00, providers1_b02, providers1_b04, providers1_b06, providers1_b08, providers1_b10, providers1_uni] },
  { row: 1, col: 0, title: "total welfare", ylabel: "total welfare", yticks: welfareTicks2,
    series: [welfare2_b00, welfare2_b02, welfare2_b04, welfare2_b06, welfare2_b08, welfare2_b10, welfare2_uni] },
  { row: 1, col: 1, title: "total viewer population", ylabel: "total population", yticks: viewerTicks2,
    series: [viewers2_b00, viewers2_b02, viewers2_b04, viewers2_b06, viewers2_b08, viewers2_b10, viewers2_uni] },
  { row: 1, col: 2, title: "total provider population", ylabel: "total population", yticks: providerTicks2, legend: true,
    series: [providers2_b00, providers2_b02, providers2_b04, providers2_b06, providers2_b08, providers2_b10, providers2_uni] },
];

// layout
const width = 2062, height = 788;
const colLeft = [138.5, 809.5, 1480.5];
const rowTop = [53.5, 428];
const plotW = 555, plotH = 236.5;

const betaColor = d3.interpolateRgb("#8EBA42", "#E24A33");
const colors = betas.map(b => betaColor(b)).concat(["#348ABD"]);
const drawOrder = [6, 0, 1, 2, 3, 4, 5];

// x domain like matplotlib autoscale on log axis (5% margins, positive data only)
const posSteps = steps.filter(t => t > 0);
const lmin = Math.log10(d3.min(posSteps)), lmax = Math.log10(d3.max(posSteps));
const lpad = (lmax - lmin) * 0.05;
const xDomain = [Math.pow(10, lmin - lpad), Math.pow(10, lmax + lpad)];

const svg = d3.select("#chart").append("svg")
  .attr("width", width)
  .attr("height", height);

panels.forEach((p, idx) => drawPanel(p, idx));

function drawPanel(p, idx) {
  const g = svg.append("g")
    .attr("transform", `translate(${colLeft[p.col]},${rowTop[p.row]})`);

  const x = d3.scaleLog().domain(xDomain).range([0, plotW]);
  const [lo, hi] = d3.extent(p.series.flat());
  const pad = (hi - lo) * 0.05;
  const y = d3.scaleLinear().domain([lo - pad, hi + pad]).range([plotH, 0]);

  g.append("rect")
    .attr("width", plotW)
    .attr("height", plotH)
    .attr("fill", "#E5E5E5");

  // grid
  g.selectAll(".gy").data(p.yticks).join("line")
    .attr("x1", 0).attr("x2", plotW)
    .attr("y1", d => y(d)).attr("y2", d => y(d))
    .attr("stroke", "#fff").attr("stroke-width", 1.6);

  const xTicks = x.ticks();
  const isMajor = t => Math.abs(Math.log10(t) - Math.round(Math.log10(t))) < 1e-9;
  g.selectAll(".gx").data(xTicks.filter(isMajor)).join("line")
    .attr("x1", d => x(d)).attr("x2", d => x(d))
    .attr("y1", 0).attr("y2", plotH)
    .attr("stroke", "#fff").attr("stroke-width", 1.6);

  // y axis
  const yAxis = g.append("g")
    .call(d3.axisLeft(y).tickValues(p.yticks).tickSize(6).tickPadding(9).tickFormat(d3.format("d")));
  yAxis.select(".domain").remove();
  yAxis.selectAll("line").attr("stroke", "#555").attr("stroke-width", 1.3);
  yAxis.selectAll("text")
    .attr("fill", "#555")
    .attr("font-size", 18.6)
    .attr("font-family", "DejaVu Sans");

  // x axis
  const xAxis = g.append("g")
    .attr("transform", `translate(0,${plotH})`)
    .call(d3.axisBottom(x).tickValues(xTicks).tickSize(6.5).tickPadding(12).tickFormat(() => ""));
  xAxis.select(".domain").remove();
  xAxis.selectAll(".tick line")
    .attr("stroke", "#555")
    .attr("stroke-width", 1.1)
    .attr("y2", d => isMajor(d) ? 6.5 : 3.5);
  xAxis.selectAll(".tick text")
    .attr("fill", "#555")
    .attr("font-size", 18.6)
    .attr("font-family", "DejaVu Sans")
    .each(function (d) {
      if (!isMajor(d)) return;
      const t = d3.select(this).text("10");
      t.append("tspan")
        .attr("dy", "-0.5em")
        .attr("font-size", 13)
        .text(Math.round(Math.log10(d)));
    });

  // title & labels
  g.append("text")
    .attr("x", plotW / 2).attr("y", -10.5)
    .attr("text-anchor", "middle")
    .attr("font-size", 26.9)
    .attr("fill", "#000")
    .text(p.title);

  g.append("text")
    .attr("x", plotW / 2).attr("y", plotH + 55)
    .attr("text-anchor", "middle")
    .attr("font-size", 22.4)
    .attr("fill", "#555")
    .text("time steps");

  let tickW = 0;
  yAxis.selectAll("text").each(function () { tickW = Math.max(tickW, this.getBBox().width); });
  g.append("text")
    .attr("transform", `translate(${-(15 + tickW + 13.5)},${plotH / 2}) rotate(-90)`)
    .attr("text-anchor", "middle")
    .attr("font-size", 22.4)
    .attr("fill", "#555")
    .text(p.ylabel);

  // series
  const clipId = "clip" + idx;
  g.append("clipPath").attr("id", clipId)
    .append("rect").attr("width", plotW).attr("height", plotH);

  const px = t => t > 0 ? x(t) : -1e5;
  const line = d3.line()
    .x((d, i) => px(steps[i]))
    .y(d => y(d));

  const plot = g.append("g").attr("clip-path", `url(#${clipId})`);
  drawOrder.forEach(si => {
    const vals = p.series[si];
    const sg = plot.append("g");
    sg.append("path")
      .attr("d", line(vals))
      .attr("fill", "none")
      .attr("stroke", colors[si])
      .attr("stroke-width", 2.2)
      .attr("stroke-linejoin", "round");
    sg.selectAll("circle")
      .data(vals.map((v, i) => [steps[i], v]).filter(d => d[0] > 0))
      .join("circle")
      .attr("cx", d => x(d[0]))
      .attr("cy", d => y(d[1]))
      .attr("r", 3.7)
      .attr("fill", colors[si]);
  });

  if (p.legend) drawLegend(g);
}

function drawLegend(g) {
  const lw = 141, lh = 206;
  const x0 = plotW - 10.5 - lw, y0 = plotH - 8 - lh;
  const lg = g.append("g").attr("transform", `translate(${x0},${y0})`);
  lg.append("rect")
    .attr("width", lw).attr("height", lh)
    .attr("rx", 4)
    .attr("fill", "#E5E5E5").attr("fill-opacity", 0.8)
    .attr("stroke", "#CCCCCC").attr("stroke-opacity", 0.8);
  const rows = lg.selectAll(".entry").data(seriesNames).join("g")
    .attr("transform", (d, i) => `translate(0,${15.7 + i * 28.77})`);
  rows.append("line")
    .attr("x1", 6.5).attr("x2", 47)
    .attr("stroke", (d, i) => colors[i])
    .attr("stroke-width", 2.2);
  rows.append("circle")
    .attr("cx", 26.7).attr("r", 3.4)
    .attr("fill", (d, i) => colors[i]);
  rows.append("text")
    .attr("x", 61)
    .attr("dy", "0.35em")
    .attr("font-size", 18.6)
    .attr("fill", "#222")
    .text(d => d);
}
</script>
</body>
</html>
